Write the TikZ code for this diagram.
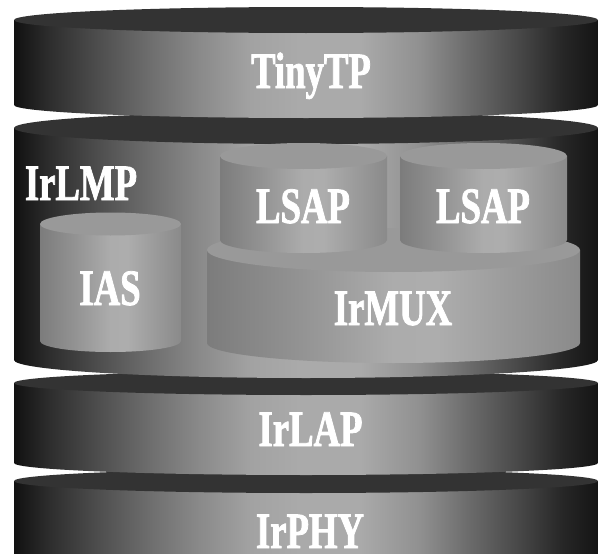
\documentclass[tikz,border=0pt]{standalone}
\usepackage{fontspec}
\newfontfamily\lblfont[FakeStretch=0.72,FakeBold=1.5,UprightFont={* Bold}]{Liberation Serif}
\definecolor{topdark}{HTML}{333333}
\definecolor{smalltopc}{HTML}{999999}
\pgfdeclarehorizontalshading{bigcyl}{100bp}{rgb(0bp)=(0.067,0.067,0.067); rgb(25bp)=(0.067,0.067,0.067); rgb(28.1bp)=(0.18,0.18,0.18); rgb(32.35bp)=(0.31,0.31,0.31); rgb(36.65bp)=(0.431,0.431,0.431); rgb(40.9bp)=(0.541,0.541,0.541); rgb(45.2bp)=(0.635,0.635,0.635); rgb(49.5bp)=(0.667,0.667,0.667); rgb(54.6bp)=(0.667,0.667,0.667); rgb(59.75bp)=(0.565,0.565,0.565); rgb(64.05bp)=(0.416,0.416,0.416); rgb(68.3bp)=(0.278,0.278,0.278); rgb(71.75bp)=(0.157,0.157,0.157); rgb(75bp)=(0.078,0.078,0.078); rgb(100bp)=(0.078,0.078,0.078)}
\pgfdeclarehorizontalshading{smallcyl}{100bp}{rgb(0bp)=(0.486,0.486,0.486); rgb(25bp)=(0.486,0.486,0.486); rgb(37.5bp)=(0.576,0.576,0.576); rgb(50bp)=(0.675,0.675,0.675); rgb(56bp)=(0.678,0.678,0.678); rgb(65bp)=(0.612,0.612,0.612); rgb(75bp)=(0.541,0.541,0.541); rgb(100bp)=(0.541,0.541,0.541)}
\tikzset{
  bigbody/.style={shading=bigcyl, shading angle=0},
  bigtop/.style={fill=topdark},
  smallbody/.style={shading=smallcyl, shading angle=0},
  smalltop/.style={fill=smalltopc},
  lbl/.style={text=white, font=\lblfont\fontsize{51}{51}\selectfont, inner sep=0pt, anchor=base}
}
% #1 body style, #2 top style, #3 xc, #4 rx, #5 ytop, #6 ry top, #7 ybottom, #8 ry bottom
\newcommand\cylshape[8]{%
  \shade[#1] ({#3-#4},#5) -- ({#3-#4},#7) arc[start angle=180,end angle=0,x radius=#4,y radius=#8] -- ({#3+#4},#5) -- cycle;
  \fill[#2] (#3,#5) ellipse[x radius=#4, y radius=#6];
}
\begin{document}
\begin{tikzpicture}[x=1pt,y=-1pt]
\useasboundingbox (0,0) rectangle (598,554);
\clip (0,0) rectangle (598,554);
% big layers, bottom first
\cylshape{bigbody}{bigtop}{306}{292}{481}{12}{600}{12}
\cylshape{bigbody}{bigtop}{306}{292}{383}{12}{463}{12}
\cylshape{bigbody}{bigtop}{306}{292}{128}{16}{360}{18}
\cylshape{bigbody}{bigtop}{306}{292}{20}{13}{105}{13}
% inner cylinders
\cylshape{smallbody}{smalltop}{110.5}{70.5}{224}{11.5}{341}{11}
\cylshape{smallbody}{smalltop}{393.5}{186.5}{250}{22}{343}{20}
\cylshape{smallbody}{smalltop}{303.5}{83.5}{156}{13}{240}{13}
\cylshape{smallbody}{smalltop}{483.5}{83.5}{156}{13}{240}{13}
% labels
\node[lbl] (tinytp) at (311,88) {TinyTP};
\node[lbl] (irlmp) at (81,200) {IrLMP};
\node[lbl] (lsap1) at (303,223) {LSAP};
\node[lbl] (lsap2) at (483,223) {LSAP};
\node[lbl] (ias) at (110,305) {IAS};
\node[lbl] (irmux) at (393,325) {IrMUX};
\node[lbl] (irlap) at (310.5,446) {IrLAP};
\node[lbl, text depth=0pt] (irphy) at (310,548) {IrPHY};
\end{tikzpicture}
\end{document}
